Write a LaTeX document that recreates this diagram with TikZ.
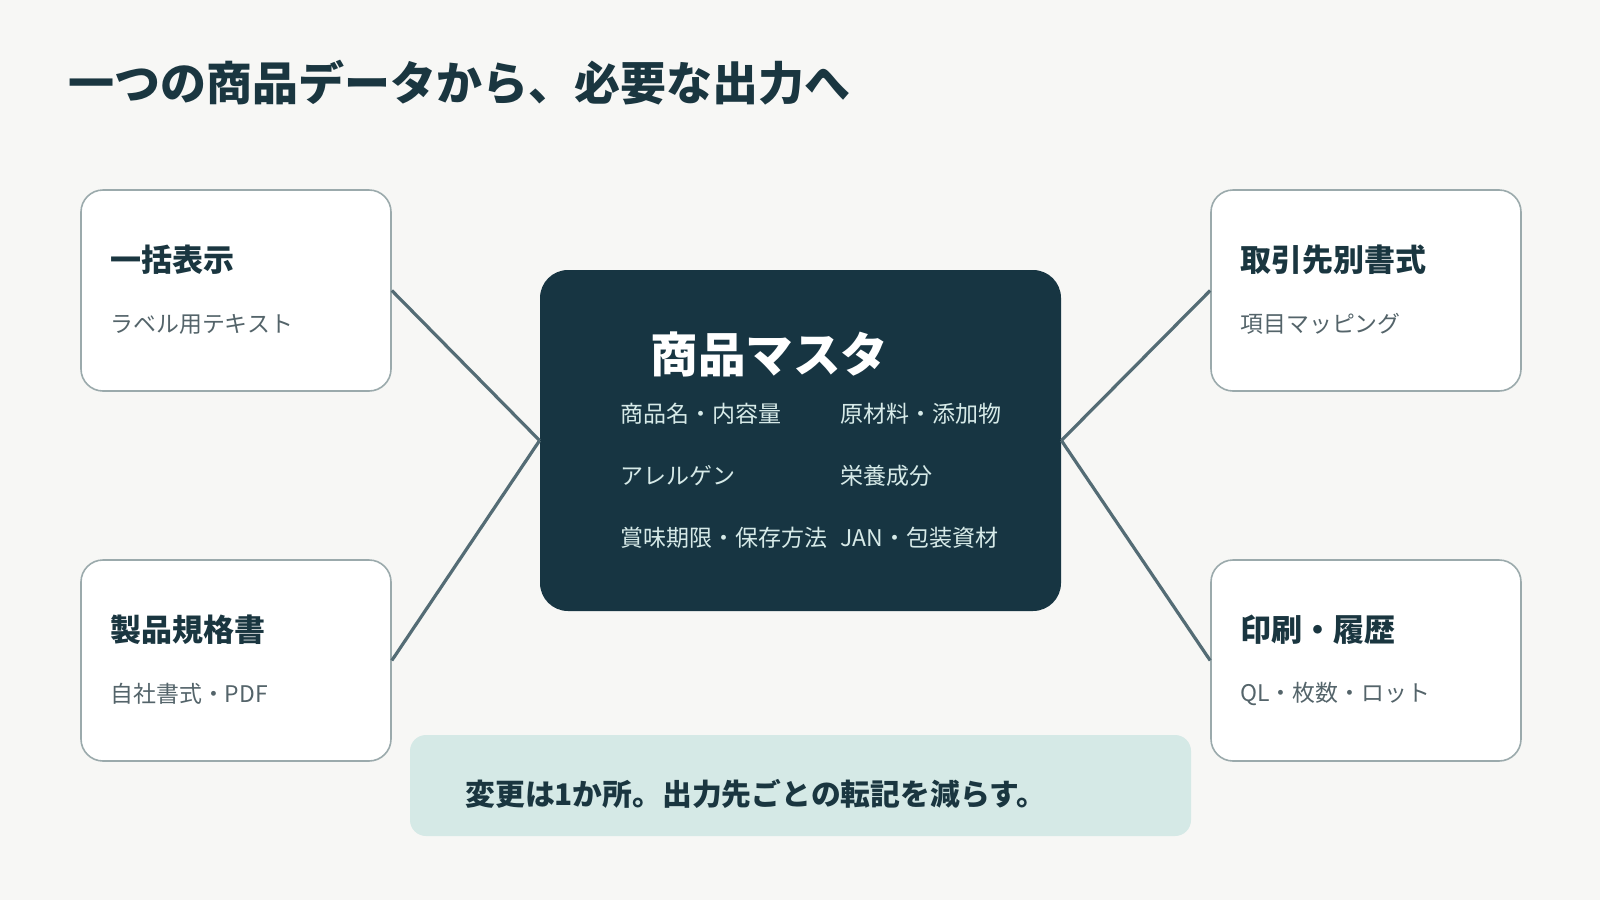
\documentclass[tikz,border=0pt]{standalone}
\usepackage{fontspec}
\setmainfont{Noto Sans CJK JP}
\definecolor{paper}{RGB}{247,247,245}
\definecolor{ink}{RGB}{26,54,64}
\definecolor{deep}{RGB}{23,53,66}
\definecolor{rim}{RGB}{155,170,172}
\definecolor{wire}{RGB}{84,108,117}
\definecolor{muted}{RGB}{84,100,106}
\definecolor{pale}{RGB}{214,234,232}
\definecolor{mint}{RGB}{213,233,230}
\usetikzlibrary{positioning}

\begin{document}
\begin{tikzpicture}[x=0.5pt,y=-0.5pt,
    outbox/.style={draw=rim,line width=0.8pt,fill=white,rounded corners=11pt,
      minimum width=155pt,minimum height=100.5pt,inner sep=0pt},
    hubbox/.style={fill=deep,rounded corners=14pt,minimum width=260.5pt,
      minimum height=170.5pt,inner sep=0pt},
    heading/.style={anchor=west,inner sep=0pt,text=ink,
      font=\fontsize{15.5}{18}\selectfont\bfseries},
    subtext/.style={anchor=west,inner sep=0pt,text=muted,
      font=\fontsize{11.45}{14}\selectfont},
    item/.style={anchor=west,inner sep=0pt,text=pale,
      font=\fontsize{11.5}{14}\selectfont},
    link/.style={draw=wire,line width=1.6pt}]
        \fill[paper] (0,0) rectangle (1600,900);
        \node[anchor=west,inner sep=0pt,text=ink,font=\fontsize{23}{28}\selectfont\bfseries]
          (title) at (68,83) {一つの商品データから、必要な出力へ};
        % master record in the middle
        \node[hubbox] (hub) at (800.5,440.5) {};
        \node[anchor=west,inner sep=0pt,text=white,font=\fontsize{23.8}{28}\selectfont\bfseries]
          (hubname) at (650,354) {商品マスタ};
        \node[item] (f1) at (620,414) {商品名・内容量};
        \node[item] (f2) at (840,414) {原材料・添加物};
        \node[item] (f3) at (620,476) {アレルゲン};
        \node[item] (f4) at (840,476) {栄養成分};
        \node[item] (f5) at (620,538) {賞味期限・保存方法};
        \node[item] (f6) at (840,538) {JAN・包装資材};
        % outputs
        \node[outbox] (label) at (236,290.5) {};
        \node[outbox] (spec) at (236,660.5) {};
        \node[outbox] (client) at (1366,290.5) {};
        \node[outbox] (print) at (1366,660.5) {};
        \node[heading] (labelh) at (110,260) {一括表示};
        \node[subtext] (labels) at (110,324) {ラベル用テキスト};
        \node[heading] (spech) at (110,630) {製品規格書};
        \node[subtext] (specs) at (110,694) {自社書式・PDF};
        \node[heading] (clienth) at (1240,260) {取引先別書式};
        \node[subtext] (clients) at (1240,324) {項目マッピング};
        \node[heading] (printh) at (1240,630) {印刷・履歴};
        \node[subtext] (prints) at (1240,694) {QL・枚数・ロット};
        \draw[link] (label.east) -- (hub.west);
        \draw[link] (spec.east) -- (hub.west);
        \draw[link] (client.west) -- (hub.east);
        \draw[link] (print.west) -- (hub.east);
        % takeaway banner
        \node[fill=mint,rounded corners=8pt,minimum width=390.5pt,minimum height=50.5pt,
          inner sep=0pt] (note) at (800.5,785.5) {};
        \node[anchor=west,inner sep=0pt,text=ink,font=\fontsize{14.9}{17}\selectfont\bfseries]
          (notetext) at (465,794) {変更は1か所。出力先ごとの転記を減らす。};
      \end{tikzpicture}
\end{document}
